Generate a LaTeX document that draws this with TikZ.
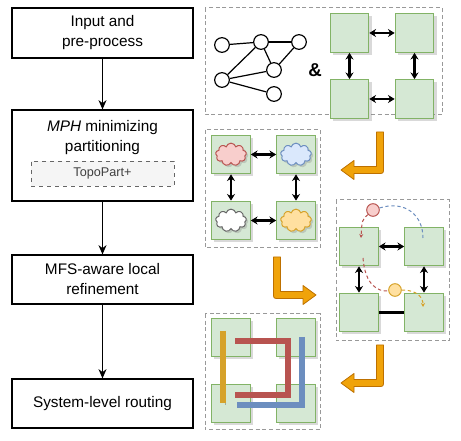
\documentclass[tikz,border=0pt]{standalone}
\usepackage{fontspec}
\setmainfont{Liberation Sans}
\usetikzlibrary{arrows.meta, positioning, shapes.symbols, shadows}

\definecolor{tilefill}{HTML}{D5E8D4}
\definecolor{tiledraw}{HTML}{82B366}
\definecolor{redfill}{HTML}{F8CECC}
\definecolor{reddraw}{HTML}{B85450}
\definecolor{bluefill}{HTML}{DAE8FC}
\definecolor{bluedraw}{HTML}{6C8EBF}
\definecolor{yellowfill}{HTML}{FFE0A0}
\definecolor{yellowdraw}{HTML}{D6A22A}
\definecolor{orangefill}{HTML}{F0A30A}
\definecolor{orangedraw}{HTML}{BD7000}
\definecolor{panelgray}{HTML}{999999}
\definecolor{subfill}{HTML}{F5F5F5}

\tikzset{
  stagebox/.style={draw, line width=0.8pt, minimum width=135.75pt, align=center, font=\fontsize{11.5}{15}\selectfont},
  subbox/.style={draw=black!60, dashed, fill=subfill, minimum width=107.25pt, minimum height=18.75pt, text=black!75, font=\fontsize{9.5}{11}\selectfont},
  flow/.style={-{Stealth[length=7pt, width=6pt]}, line width=0.8pt},
  panel/.style={draw=panelgray, dash pattern=on 3pt off 2pt, line width=0.75pt},
  tile/.style={draw=tiledraw, fill=tilefill, line width=0.75pt, minimum size=29pt, inner sep=0pt,
    drop shadow={shadow xshift=2pt, shadow yshift=-2pt, opacity=0.3}},
  link/.style={{Stealth[length=5pt, width=6pt]}-{Stealth[length=5pt, width=6pt]}, line width=1.9pt},
  vertex/.style={circle, draw, fill=white, line width=0.9pt, minimum size=11pt, inner sep=0pt},
  blob/.style={cloud, cloud puffs=9, cloud ignores aspect, minimum width=23pt, minimum height=17pt, inner sep=0pt,
    line width=0.75pt, drop shadow={shadow xshift=1.5pt, shadow yshift=-1.5pt, opacity=0.3}},
  mover/.style={circle, line width=0.75pt, minimum size=9.5pt, inner sep=0pt},
  trace/.style={dash pattern=on 2.5pt off 2pt, line width=0.75pt},
  wire/.style={line width=4.5pt, preaction={draw=black, draw opacity=0.25, transform canvas={xshift=1.5pt, yshift=-1.5pt}}},
  fatarrow/.style={fill=orangefill, draw=orangedraw, line width=0.6pt, line join=round},
  bendarrow/.pic={
    \begin{scope}[xscale=#1]
      \path[fatarrow] (-3.5,0) -- (3.5,0) -- (3.5,36) .. controls (3.5,41.5) .. (-2,41.5)
        -- (-26,41.5) -- (-26,47.5) -- (-39,38) -- (-26,28.5) -- (-26,34.5) -- (-3.5,34.5) -- cycle;
    \end{scope}
  }
}

\begin{document}
\begin{tikzpicture}[x=0.75pt, y=-0.75pt]
  \useasboundingbox (0,0) rectangle (461,441);

  % flow of stages
  \node[stagebox, minimum height=37.5pt] (input) at (102.5,33) {Input and\\pre-process};
  \node[stagebox, minimum height=68.25pt] (mph) at (102.5,155.5) {};
  \node[align=center, font=\fontsize{11.5}{15}\selectfont] (mphlabel) at (102.5,137.5) {\textit{MPH} minimizing\\partitioning};
  \node[subbox] (topo) at (102.5,173.5) {TopoPart+};
  \node[stagebox, minimum height=36.75pt] (mfs) at (102.5,279.5) {MFS-aware local\\refinement};
  \node[stagebox, minimum height=36.75pt] (route) at (102.5,403.5) {System-level routing};

  \draw[flow] (input) -- (mph);
  \draw[flow] (mph) -- (mfs);
  \draw[flow] (mfs) -- (route);

  % panels
  \draw[panel] (205,8) rectangle (442,115);
  \draw[panel] (205,130) rectangle (320,248);
  \draw[panel] (336,200) rectangle (449,341);
  \draw[panel] (205,314) rectangle (320,430);

  % input graph
  \node[vertex] (g1) at (222,45) {};
  \node[vertex] (g2) at (261,42) {};
  \node[vertex] (g3) at (299,42) {};
  \node[vertex] (g4) at (274,70) {};
  \node[vertex] (g5) at (222,80) {};
  \node[vertex] (g6) at (274,94) {};
  \foreach \u/\v in {g1/g2, g2/g3, g2/g5, g2/g4, g3/g4, g5/g4, g5/g6}
    \draw[line width=0.9pt] (\u) -- (\v);
  \node[font=\bfseries\fontsize{14}{14}\selectfont] (amp) at (315,70) {\&};

  % tiles of the four panels
  \foreach \p/\x/\y in {p1/349.5/33, p2/231/154.5, p3/359/246.5, p4/231/337.5} {
    \node[tile] (\p a) at (\x,\y) {};
    \node[tile] (\p b) at (\x+65,\y) {};
    \node[tile] (\p c) at (\x,\y+66) {};
    \node[tile] (\p d) at (\x+65,\y+66) {};
  }

  \foreach \p in {p1,p2} {
    \draw[link] (\p a) -- (\p b);
    \draw[link] (\p c) -- (\p d);
    \draw[link] (\p a) -- (\p c);
    \draw[link] (\p b) -- (\p d);
  }
  \draw[link] (p3a) -- (p3b);
  \draw[link] (p3a) -- (p3c);
  \draw[link] (p3b) -- (p3d);
  \draw[line width=2.8pt] (p3c) -- (p3d);

  % partitions
  \node[blob, fill=redfill, draw=reddraw] (cl1) at (p2a) {};
  \node[blob, fill=bluefill, draw=bluedraw] (cl2) at (p2b) {};
  \node[blob, fill=white, draw=black!60] (cl3) at (p2c) {};
  \node[blob, fill=yellowfill, draw=yellowdraw] (cl4) at (p2d) {};

  % refinement moves
  \node[mover, fill=redfill, draw=reddraw] (redc) at (373,210) {};
  \node[mover, fill=yellowfill, draw=yellowdraw] (yelc) at (395,290) {};
  \coordinate (redin) at (361,238);
  \coordinate (redout) at (363,258);
  \coordinate (bluein) at (423,238);
  \coordinate (yelin) at (423,307);
  \draw[trace, draw=reddraw, -{Stealth[length=3pt, width=3pt]}] (redc) .. controls (362,220) .. (redin);
  \draw[trace, draw=reddraw] (redout) .. controls (365,285) and (378,292) .. (yelc);
  \draw[trace, draw=bluedraw] (redc) .. controls (405,200) and (423,215) .. (bluein);
  \draw[trace, draw=yellowdraw, -{Stealth[length=3pt, width=3pt]}] (yelc) .. controls (418,290) and (423,298) .. (yelin);

  % routed wires
  \draw[wire, draw=yellowdraw] (223,331) -- (223,403);
  \draw[wire, draw=reddraw] (235,341) -- (288,341) -- (288,395) -- (235,395);
  \draw[wire, draw=bluedraw] (302,337) -- (302,405) -- (237,405);

  % step arrows
  \pic at (380,132) {bendarrow=1};
  \pic at (277,257) {bendarrow=-1};
  \pic at (380,345) {bendarrow=1};
\end{tikzpicture}
\end{document}
